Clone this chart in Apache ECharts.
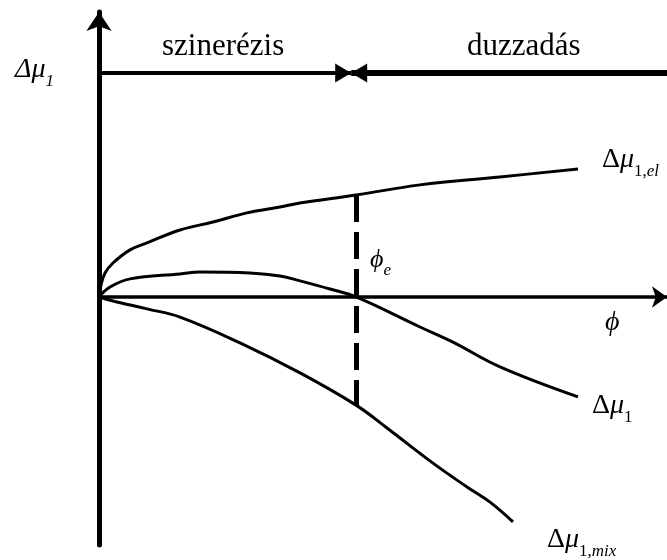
<!DOCTYPE html>
<html>
<head>
<meta charset="utf-8">
<script src="https://cdn.jsdelivr.net/npm/echarts@6/dist/echarts.min.js"></script>
<style>
  html, body { margin: 0; padding: 0; background: #fff; }
  #chart { width: 667px; height: 560px; }
</style>
</head>
<body>
<div id="chart"></div>
<script>
// Volume fraction φ (arbitrary units, 0–100) and chemical-potential terms (arbitrary units)

// elastic contribution Δμ1,el
const elPhi = [0, 0.35, 1.06, 2.46, 5.46, 8.45, 14.26, 20.07, 26.06, 31.87, 35.39, 45.25, 56.51, 70.6, 84.33];
const elMu  = [0, 4.8, 9.7, 13.7, 19.0, 21.8, 27.0, 30.2, 33.9, 36.3, 37.9, 41.1, 45.2, 48.4, 51.6];

// mixing contribution Δμ1,mix
const mixPhi = [0, 2.46, 8.45, 14.26, 24.82, 35.39, 45.25, 50.7, 58.8, 64.79, 68.84, 72.89];
const mixMu  = [0, -1.6, -4.8, -8.1, -18.5, -30.6, -43.6, -52.8, -67.0, -76.6, -82.7, -90.7];

// total Δμ1
const netPhi = [0, 1.94, 5.46, 14.26, 17.78, 26.58, 31.87, 35.39, 40.67, 45.25, 56.51, 62.32, 70.6, 84.33];
const netMu  = [0, 4.0, 7.3, 9.3, 10.1, 9.7, 8.5, 6.5, 3.2, 0, -12.1, -18.2, -28.2, -40.3];

// equilibrium fraction φe, boundary between the two regions, and their labels
const phiE = 45.25;
const regionSplit = 44.4;
const regionLevel = 90.3;
const regionNames = ['szinerézis', 'duzzadás'];

const xMin = 0, xMax = 100, yMin = -100, yMax = 114.9;

const zip = (xs, ys) => xs.map((x, i) => [x, ys[i]]);
const elAtE = elMu[elPhi.indexOf(phiE)];
const mixAtE = mixMu[mixPhi.indexOf(phiE)];

const serif = '"Liberation Serif", "Times New Roman", serif';
const curveStyle = { color: '#000', width: 3 };

const chart = echarts.init(document.getElementById('chart'), null, { renderer: 'canvas' });

const subRich = (size) => ({
  m:  { fontFamily: serif, fontSize: size, fontStyle: 'italic', verticalAlign: 'bottom', padding: [0, 0, 6, 0] },
  u:  { fontFamily: serif, fontSize: size, verticalAlign: 'bottom', padding: [0, 0, 6, 0] },
  s:  { fontFamily: serif, fontSize: 17, verticalAlign: 'bottom' },
  si: { fontFamily: serif, fontSize: 17, fontStyle: 'italic', verticalAlign: 'bottom' }
});

chart.setOption({
  animation: false,
  backgroundColor: '#fff',
  grid: { left: 99, right: 0, top: 12, bottom: 15, containLabel: false },
  xAxis: {
    type: 'value', min: xMin, max: xMax,
    axisLine: {
      onZero: true,
      lineStyle: { color: '#000', width: 3.5 },
      symbol: ['none', 'arrow'], symbolSize: [16, 15]
    },
    axisTick: { show: false }, axisLabel: { show: false }, splitLine: { show: false }
  },
  yAxis: {
    type: 'value', min: yMin, max: yMax,
    axisLine: {
      show: true, onZero: true,
      lineStyle: { color: '#000', width: 5 },
      symbol: ['none', 'arrow'], symbolSize: [19, 19]
    },
    axisTick: { show: false }, axisLabel: { show: false }, splitLine: { show: false }
  },
  series: [
    { name: 'el', type: 'line', data: zip(elPhi, elMu), showSymbol: false, smooth: 0.4, lineStyle: curveStyle, silent: true },
    { name: 'net', type: 'line', data: zip(netPhi, netMu), showSymbol: false, smooth: 0.4, lineStyle: curveStyle, silent: true },
    { name: 'mix', type: 'line', data: zip(mixPhi, mixMu), showSymbol: false, smooth: 0.4, lineStyle: curveStyle, silent: true },
    {
      // dashed marker at φe between the elastic and mixing curves
      name: 'phiE', type: 'line', data: [], silent: true,
      markLine: {
        silent: true, symbol: ['none', 'none'], label: { show: false },
        lineStyle: { color: '#000', width: 5, type: [27, 10] },
        data: [[{ coord: [phiE, elAtE] }, { coord: [phiE, mixAtE] }]]
      }
    },
    {
      // syneresis range arrow
      name: 'syneresis', type: 'line', data: [], silent: true,
      markLine: {
        silent: true, symbol: ['none', 'triangle'], symbolSize: [19, 16], symbolOffset: [0, [0, 8]],
        label: { show: false },
        lineStyle: { color: '#000', width: 4, type: 'solid' },
        data: [[{ coord: [xMin, regionLevel] }, { coord: [regionSplit, regionLevel] }]]
      }
    },
    {
      // swelling range arrow
      name: 'swelling', type: 'line', data: [], silent: true,
      markLine: {
        silent: true, symbol: ['none', 'triangle'], symbolSize: [19, 16], symbolOffset: [0, [0, 8]],
        label: { show: false },
        lineStyle: { color: '#000', width: 6, type: 'solid' },
        data: [[{ coord: [xMax, regionLevel] }, { coord: [regionSplit, regionLevel] }]]
      }
    }
  ],
  graphic: [
    { type: 'text', left: 162, top: 31, style: { text: regionNames[0], font: '31px ' + serif, fill: '#000' } },
    { type: 'text', left: 467, top: 31, style: { text: regionNames[1], font: '31px ' + serif, fill: '#000' } },
    { type: 'text', left: 15, top: 56, style: { text: '{m|Δμ}{si|1}', rich: subRich(28), fill: '#000' } },
    { type: 'text', left: 602, top: 146, style: { text: '{u|Δ}{m|μ}{s|1,}{si|el}', rich: subRich(28), fill: '#000' } },
    { type: 'text', left: 592, top: 392, style: { text: '{u|Δ}{m|μ}{s|1}', rich: subRich(28), fill: '#000' } },
    { type: 'text', left: 547, top: 526, style: { text: '{u|Δ}{m|μ}{s|1,}{si|mix}', rich: subRich(28), fill: '#000' } },
    { type: 'text', left: 370, top: 247, style: { text: '{m|ϕ}{si|e}', rich: subRich(26), fill: '#000' } },
    { type: 'text', left: 605, top: 309, style: { text: 'ϕ', font: 'italic 28px ' + serif, fill: '#000' } }
  ]
});
</script>
</body>
</html>
